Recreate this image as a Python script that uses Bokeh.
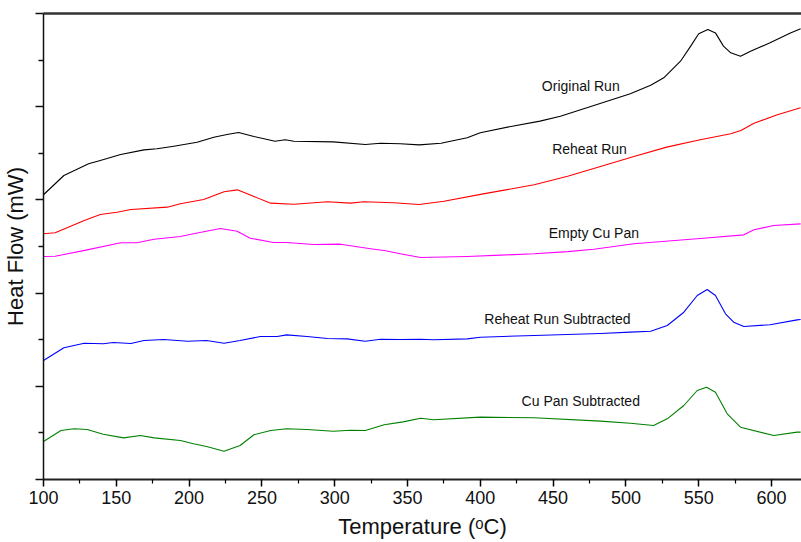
from bokeh.plotting import figure
from bokeh.models import FixedTicker, LinearAxis, Label, Range1d
from bokeh.embed import file_html
from bokeh.resources import INLINE

# ---- data ----
orig_T = [100, 114, 131, 139, 153, 169, 178, 189.5, 205.5, 217, 226, 234, 244.5, 259, 266, 272, 299, 321,
          331.5, 345, 358, 373, 391, 400, 421, 441, 455, 478, 503, 517, 526, 537.5, 544.5, 550, 556.3,
          561.5, 567, 572, 578.7, 585.6, 599, 613, 620]
orig_v = [3.055, 3.262, 3.387, 3.423, 3.487, 3.537, 3.548, 3.576, 3.619, 3.673, 3.702, 3.723, 3.68, 3.63,
          3.645, 3.63, 3.623, 3.594, 3.608, 3.602, 3.59, 3.608, 3.666, 3.72, 3.788, 3.845, 3.898, 4.013,
          4.138, 4.23, 4.31, 4.488, 4.65, 4.782, 4.828, 4.792, 4.65, 4.578, 4.542, 4.596, 4.685, 4.792, 4.836]

reheat_T = [100, 108, 128, 139, 150.5, 160, 185, 194, 210, 224, 233, 240, 256, 272, 295, 311, 320, 340.5,
            358, 375, 402, 437, 460, 482.5, 505.5, 528, 551, 572, 579, 588, 604, 620]
reheat_v = [2.636, 2.647, 2.779, 2.843, 2.868, 2.897, 2.922, 2.958, 3.004, 3.087, 3.108, 3.065, 2.965, 2.954,
            2.98, 2.965, 2.98, 2.969, 2.95, 2.986, 3.065, 3.162, 3.254, 3.358, 3.466, 3.566, 3.645, 3.709,
            3.745, 3.823, 3.913, 3.988]

pan_T = [100, 108, 130, 153, 164, 176, 194, 203, 221.5, 233, 242, 258, 267, 285.5, 304, 327, 334, 345, 359,
         391, 414, 437, 460, 478, 505.5, 551, 581, 588, 601.5, 620]
pan_v = [2.393, 2.396, 2.464, 2.54, 2.54, 2.578, 2.607, 2.636, 2.693, 2.664, 2.589, 2.543, 2.543, 2.521,
         2.525, 2.471, 2.457, 2.422, 2.382, 2.393, 2.407, 2.422, 2.445, 2.47, 2.529, 2.586, 2.625, 2.679,
         2.725, 2.743]

rsub_T = [100, 114, 128, 141, 148, 160, 169, 182.5, 199, 212, 224, 235, 249, 260.5, 267, 281, 295, 308.5,
          321, 331.5, 345, 359, 368, 391, 400, 437, 482.5, 503, 517, 528.4, 539.8, 549, 555.8, 561.5, 568.4,
          574, 581, 599, 617.6, 620]
rsub_v = [1.277, 1.413, 1.462, 1.456, 1.47, 1.459, 1.491, 1.502, 1.484, 1.491, 1.462, 1.491, 1.534, 1.534,
          1.552, 1.534, 1.513, 1.509, 1.484, 1.505, 1.502, 1.505, 1.499, 1.509, 1.527, 1.545, 1.567, 1.581,
          1.591, 1.652, 1.795, 1.974, 2.039, 1.974, 1.778, 1.688, 1.642, 1.66, 1.713, 1.717]

csub_T = [100, 112, 121, 130, 141, 155, 166.5, 176, 194, 203, 212, 224, 235, 244.5, 256, 267, 281, 299, 311,
          321, 334, 347, 359, 368, 400, 437, 482.5, 503, 519, 528.4, 539.8, 549, 555.4, 561.5, 569.6, 578.7,
          601.6, 617.6, 620]
csub_v = [0.408, 0.526, 0.544, 0.536, 0.486, 0.447, 0.472, 0.447, 0.418, 0.383, 0.354, 0.304, 0.365, 0.48,
          0.526, 0.544, 0.536, 0.518, 0.529, 0.526, 0.587, 0.618, 0.658, 0.641, 0.669, 0.662, 0.626, 0.604,
          0.579, 0.651, 0.794, 0.955, 0.99, 0.937, 0.705, 0.561, 0.472, 0.508, 0.508]

x_major = [100, 150, 200, 250, 300, 350, 400, 450, 500, 550, 600]
x_minor = [125, 175, 225, 275, 325, 375, 425, 475, 525, 575, 625]
y_major = [0, 1, 2, 3, 4, 5]
y_minor = [0.5, 1.5, 2.5, 3.5, 4.5]

series = [
    ("Original Run", orig_T, orig_v, "#000000", 469, 4.224),
    ("Reheat Run", reheat_T, reheat_v, "#ff0000", 475, 3.541),
    ("Empty Cu Pan", pan_T, pan_v, "#ff00ff", 478, 2.647),
    ("Reheat Run Subtracted", rsub_T, rsub_v, "#0000ff", 453, 1.724),
    ("Cu Pan Subtracted", csub_T, csub_v, "#008000", 469, 0.837),
]

x_title = "Temperature (\u1d52C)"
y_title = "Heat Flow (mW)"

FONT = "Liberation Sans"
W, H = 801, 542
LEFT, TOP, BOTTOM = 43, 13, 63
X0, X1 = 100, 620.6

p = figure(width=W, height=H, output_backend="svg", toolbar_location=None,
           x_range=Range1d(X0, X1), y_range=Range1d(0, 5),
           min_border_left=LEFT, min_border_right=0, min_border_top=TOP, min_border_bottom=BOTTOM)
p.outline_line_color = None
p.grid.visible = False
p.background_fill_color = "white"
p.border_fill_color = "white"

for name, T, v, col, lx, ly in series:
    p.line(T, v, line_color=col, line_width=1.1, line_join="round")
    p.add_layout(Label(x=lx, y=ly, text=name, text_align="center", text_baseline="middle",
                       text_font=FONT, text_font_size="14px", text_color="#111111"))

xa = p.xaxis[0]
xa.ticker = FixedTicker(ticks=x_major, minor_ticks=x_minor)
xa.major_tick_out = 7
xa.major_tick_in = 0
xa.minor_tick_out = 4
xa.minor_tick_in = 0
xa.axis_line_width = 2
xa.axis_line_color = "#222222"
xa.major_tick_line_width = 1.5
xa.minor_tick_line_width = 1.2
xa.major_label_text_font = FONT
xa.major_label_text_font_size = "18px"
xa.major_label_text_color = "#111111"
xa.major_label_standoff = 4
xa.axis_label = x_title
xa.axis_label_text_font = FONT
xa.axis_label_text_font_size = "22px"
xa.axis_label_text_font_style = "normal"
xa.axis_label_text_color = "#111111"
xa.axis_label_standoff = 7

# y axis: ticks without numbers (labels are blank)
ya = p.yaxis[0]
ya.ticker = FixedTicker(ticks=y_major, minor_ticks=y_minor)
ya.major_label_overrides = {t: " " for t in y_major}
ya.major_label_text_font = FONT
ya.major_label_text_font_size = "8px"
ya.major_label_standoff = 0
ya.major_tick_out = 8
ya.major_tick_in = 0
ya.minor_tick_out = 5
ya.minor_tick_in = 0
ya.axis_line_width = 1.5
ya.axis_line_color = "#111111"
ya.major_tick_line_width = 1.5
ya.major_tick_line_color = "#111111"
ya.minor_tick_line_width = 1.3
ya.minor_tick_line_color = "#111111"
ya.axis_label = y_title
ya.axis_label_text_font = FONT
ya.axis_label_text_font_size = "22px"
ya.axis_label_text_font_style = "normal"
ya.axis_label_text_color = "#111111"
ya.axis_label_standoff = 2

top = LinearAxis(ticker=FixedTicker(ticks=[]), major_tick_out=0, major_tick_in=0,
                 minor_tick_out=0, minor_tick_in=0,
                 major_label_standoff=0, axis_line_width=2.5, axis_line_color="#333333")
p.add_layout(top, "above")

open("out.html", "w").write(file_html(p, INLINE))
